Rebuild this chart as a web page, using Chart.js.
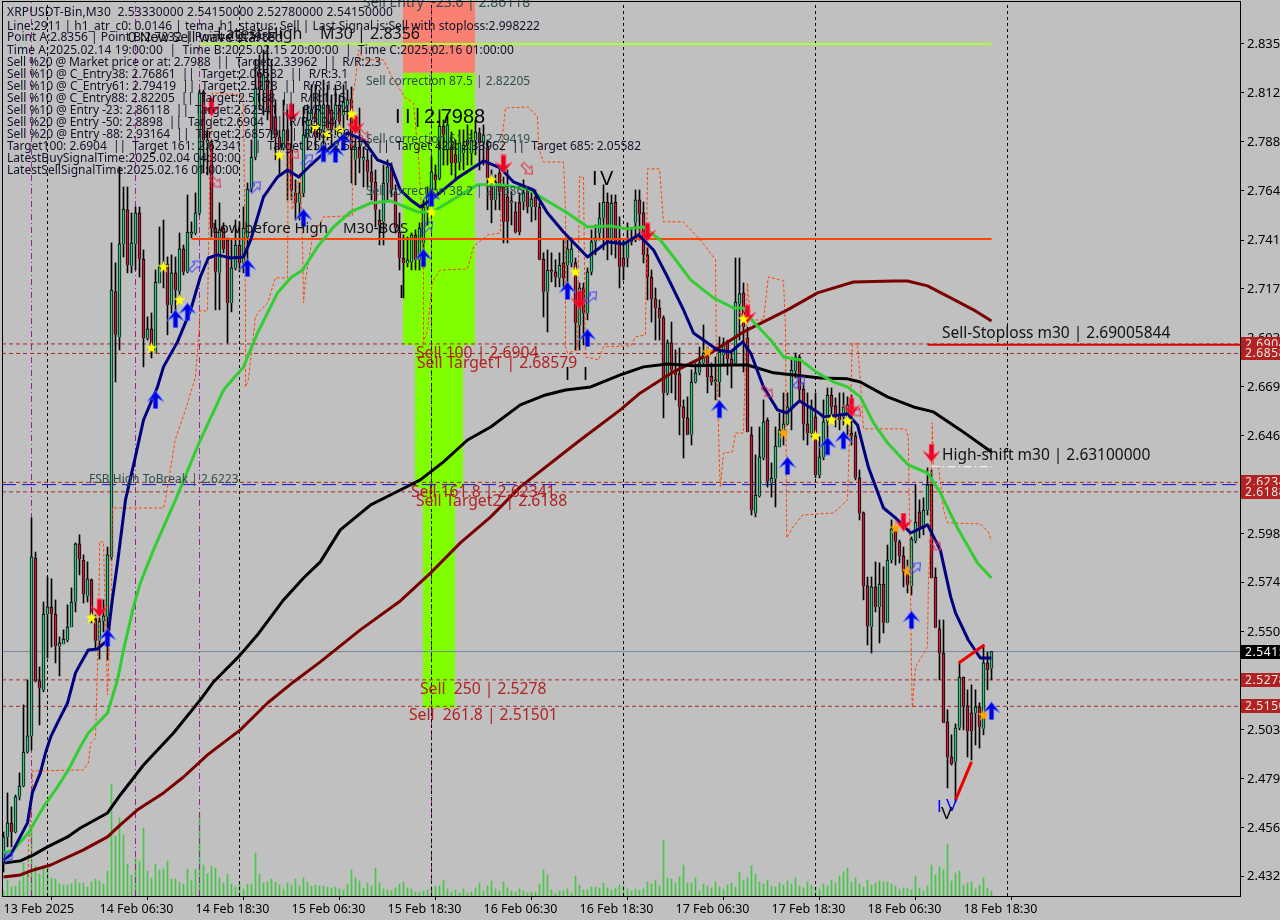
<!DOCTYPE html>
<html><head><meta charset="utf-8">
<style>html,body{margin:0;padding:0;background:#c0c0c0;overflow:hidden}canvas{display:block}</style>
<script src="https://cdn.jsdelivr.net/npm/chart.js@4"></script>
</head><body><canvas id="c" width="1280" height="920"></canvas>
<script>
const opens=[2.4397,2.4518,2.4586,2.4542,2.4712,2.4765,2.4929,2.5007,2.5868,2.5273,2.5229,2.5597,2.5631,2.5597,2.5442,2.5452,2.5471,2.5534,2.5655,2.5936,2.5858,2.5684,2.5762,2.5573,2.5467,2.5563,2.5583,2.5873,2.7156,2.6938,2.7388,2.7553,2.7282,2.7388,2.7538,2.7315,2.6933,2.6977,2.6860,2.7199,2.7286,2.7291,2.7093,2.7248,2.7160,2.7364,2.7253,2.7436,2.7441,2.7538,2.8124,2.7877,2.7877,2.7465,2.7248,2.7465,2.7407,2.7102,2.7272,2.7383,2.7296,2.7422,2.7654,2.7809,2.8216,2.8133,2.8182,2.8133,2.8003,2.7906,2.7853,2.7940,2.7843,2.7635,2.7587,2.7635,2.7906,2.7988,2.8022,2.7954,2.7940,2.8061,2.8037,2.7988,2.8061,2.8012,2.8061,2.8090,2.7795,2.7857,2.7795,2.7795,2.7737,2.7688,2.7504,2.7495,2.7683,2.7761,2.7640,2.7446,2.7320,2.7296,2.7301,2.7432,2.7311,2.7393,2.7567,2.7616,2.7722,2.7707,2.7959,2.7843,2.7857,2.7819,2.7785,2.7828,2.7891,2.7828,2.7891,2.7925,2.7877,2.7857,2.7707,2.7601,2.7732,2.7664,2.7616,2.7587,2.7543,2.7591,2.7591,2.7649,2.7567,2.7616,2.7567,2.7315,2.7156,2.7262,2.7253,2.7223,2.7296,2.7286,2.7296,2.7296,2.6996,2.7175,2.7054,2.7253,2.7398,2.7441,2.7514,2.7591,2.7407,2.7591,2.7403,2.7320,2.7320,2.7407,2.7490,2.7601,2.7538,2.7335,2.7228,2.7122,2.7078,2.7030,2.6667,2.6909,2.6778,2.6759,2.6599,2.6546,2.6464,2.6720,2.6764,2.6812,2.6860,2.6749,2.6720,2.6720,2.6851,2.6909,2.6831,2.6812,2.7098,2.7151,2.6933,2.6464,2.6086,2.6168,2.6352,2.6536,2.6231,2.6251,2.6405,2.6483,2.6517,2.6599,2.6773,2.6841,2.6686,2.6517,2.6473,2.6551,2.6270,2.6357,2.6527,2.6657,2.6604,2.6560,2.6551,2.6560,2.6473,2.6459,2.6256,2.6086,2.5733,2.5534,2.5728,2.5631,2.5742,2.5554,2.5858,2.6009,2.5946,2.5878,2.5800,2.5733,2.5950,2.6091,2.6018,2.6100,2.6222,2.5776,2.5525,2.5408,2.5075,2.4905,2.4881,2.5046,2.5292,2.5152,2.5118,2.5118,2.5147,2.5041,2.5360,2.5333];
const highs=[2.4542,2.4731,2.4663,2.4721,2.4828,2.5157,2.5278,2.6062,2.5897,2.5341,2.5655,2.5776,2.5767,2.5665,2.5486,2.5520,2.5641,2.5723,2.5941,2.5980,2.5883,2.5849,2.5767,2.5592,2.5578,2.5665,2.5921,2.7393,2.7296,2.7761,2.7664,2.7664,2.7538,2.7567,2.7567,2.7359,2.7035,2.7054,2.7262,2.7470,2.7504,2.7325,2.7335,2.7325,2.7441,2.7383,2.7625,2.7495,2.7635,2.8133,2.8133,2.7940,2.7891,2.7504,2.7587,2.7490,2.7417,2.7407,2.7504,2.7495,2.7567,2.7683,2.7891,2.8279,2.8303,2.8327,2.8351,2.8279,2.8085,2.7940,2.8085,2.8037,2.8051,2.7698,2.7683,2.8051,2.8061,2.8158,2.8158,2.8133,2.8182,2.8158,2.8109,2.8158,2.8109,2.8158,2.8133,2.8148,2.7906,2.8046,2.7857,2.7843,2.7819,2.7746,2.7553,2.7770,2.7795,2.7780,2.7674,2.7538,2.7432,2.7422,2.7441,2.7456,2.7490,2.7601,2.7664,2.7809,2.7770,2.8037,2.7988,2.8012,2.7930,2.7891,2.7940,2.7940,2.7964,2.7940,2.7988,2.7949,2.7964,2.7891,2.7746,2.7722,2.7770,2.7712,2.7746,2.7640,2.7591,2.7635,2.7698,2.7664,2.7649,2.7649,2.7587,2.7345,2.7359,2.7345,2.7311,2.7345,2.7407,2.7407,2.7417,2.7320,2.7199,2.7199,2.7272,2.7456,2.7480,2.7587,2.7674,2.7635,2.7625,2.7625,2.7519,2.7407,2.7490,2.7465,2.7649,2.7649,2.7591,2.7369,2.7262,2.7175,2.7117,2.7040,2.6923,2.7010,2.6875,2.6885,2.6633,2.6648,2.6778,2.6812,2.6889,2.6996,2.6889,2.6812,2.6841,2.6938,2.6933,2.6923,2.6860,2.7320,2.7320,2.7199,2.6986,2.6502,2.6367,2.6502,2.6633,2.6546,2.6328,2.6502,2.6570,2.6667,2.6667,2.6827,2.6860,2.6851,2.6715,2.6667,2.6633,2.6667,2.6454,2.6633,2.6691,2.6691,2.6643,2.6667,2.6667,2.6648,2.6657,2.6478,2.6294,2.6091,2.5776,2.5776,2.5849,2.5844,2.5825,2.5931,2.6052,2.6018,2.5955,2.5921,2.5858,2.5970,2.6222,2.6149,2.6159,2.6304,2.6294,2.5820,2.5568,2.5568,2.5133,2.5012,2.5065,2.5360,2.5292,2.5230,2.5254,2.5230,2.5167,2.5447,2.5413,2.5415];
const lows=[2.4348,2.4470,2.4470,2.4537,2.4697,2.4760,2.4924,2.4939,2.5268,2.5060,2.5220,2.5384,2.5437,2.5360,2.5297,2.5452,2.5462,2.5534,2.5607,2.5786,2.5650,2.5655,2.5554,2.5433,2.5379,2.5510,2.5375,2.5858,2.6720,2.6875,2.7325,2.7248,2.7248,2.7262,2.7228,2.6793,2.6923,2.6836,2.6860,2.7199,2.7175,2.6948,2.7054,2.7035,2.7117,2.7238,2.7248,2.7417,2.7432,2.7528,2.7732,2.7722,2.7422,2.7069,2.7069,2.7345,2.6909,2.7059,2.7262,2.7253,2.7248,2.7311,2.7640,2.7795,2.8037,2.8012,2.7988,2.7891,2.7795,2.7722,2.7843,2.7601,2.7601,2.7504,2.7504,2.7616,2.7843,2.7925,2.7843,2.7891,2.7867,2.7891,2.7867,2.7916,2.7940,2.7940,2.7988,2.7683,2.7674,2.7732,2.7664,2.7664,2.7601,2.7470,2.7383,2.7383,2.7601,2.7616,2.7441,2.7262,2.7127,2.7277,2.7262,2.7262,2.7262,2.7272,2.7480,2.7601,2.7649,2.7698,2.7770,2.7770,2.7722,2.7698,2.7746,2.7746,2.7770,2.7770,2.7819,2.7746,2.7770,2.7553,2.7490,2.7553,2.7553,2.7393,2.7393,2.7480,2.7441,2.7432,2.7553,2.7538,2.7495,2.7504,2.7311,2.7035,2.6962,2.7204,2.7180,2.7180,2.7180,2.7180,2.7277,2.6875,2.6875,2.6899,2.7020,2.7238,2.7335,2.7407,2.7359,2.7311,2.7335,2.7320,2.7175,2.7214,2.7277,2.7383,2.7398,2.7407,2.7296,2.7117,2.7010,2.6923,2.6923,2.6546,2.6657,2.6667,2.6633,2.6464,2.6352,2.6464,2.6415,2.6715,2.6754,2.6802,2.6667,2.6705,2.6633,2.6648,2.6802,2.6754,2.6691,2.6802,2.6923,2.6768,2.6478,2.6076,2.6067,2.6163,2.6343,2.6211,2.6163,2.6115,2.6405,2.6415,2.6512,2.6488,2.6740,2.6633,2.6439,2.6415,2.6454,2.6256,2.6256,2.6343,2.6415,2.6536,2.6502,2.6488,2.6512,2.6464,2.6415,2.6246,2.6052,2.5665,2.5447,2.5408,2.5607,2.5457,2.5505,2.5554,2.5844,2.5834,2.5844,2.5728,2.5699,2.5689,2.5941,2.5965,2.5980,2.6076,2.5771,2.5530,2.5278,2.5070,2.4755,2.4866,2.4687,2.5036,2.5036,2.4905,2.4890,2.4963,2.4948,2.5012,2.5230,2.5278];
const closes=[2.4518,2.4586,2.4542,2.4712,2.4765,2.4929,2.5007,2.5873,2.5273,2.5239,2.5597,2.5631,2.5597,2.5442,2.5457,2.5476,2.5534,2.5655,2.5936,2.5863,2.5694,2.5767,2.5592,2.5467,2.5563,2.5588,2.5883,2.7165,2.6948,2.7388,2.7557,2.7286,2.7393,2.7538,2.7315,2.6933,2.6977,2.6865,2.7204,2.7277,2.7272,2.7093,2.7248,2.7165,2.7364,2.7253,2.7446,2.7446,2.7538,2.8119,2.7891,2.7891,2.7465,2.7253,2.7456,2.7364,2.7102,2.7272,2.7383,2.7296,2.7465,2.7654,2.7809,2.8143,2.8133,2.8206,2.8037,2.7940,2.7906,2.7853,2.7940,2.7843,2.7649,2.7587,2.7635,2.7916,2.7988,2.8037,2.7906,2.8061,2.8061,2.7949,2.7940,2.8061,2.7979,2.8075,2.8085,2.7843,2.7857,2.7804,2.7809,2.7737,2.7688,2.7553,2.7480,2.7683,2.7761,2.7649,2.7465,2.7320,2.7296,2.7311,2.7432,2.7311,2.7465,2.7567,2.7616,2.7737,2.7698,2.7959,2.7916,2.7964,2.7780,2.7780,2.7877,2.7867,2.7867,2.7891,2.7930,2.7877,2.7916,2.7707,2.7601,2.7688,2.7640,2.7495,2.7495,2.7596,2.7446,2.7446,2.7635,2.7567,2.7606,2.7567,2.7311,2.7156,2.7262,2.7253,2.7228,2.7286,2.7223,2.7364,2.7364,2.7006,2.7175,2.7054,2.7253,2.7398,2.7417,2.7514,2.7591,2.7393,2.7586,2.7393,2.7277,2.7277,2.7398,2.7398,2.7601,2.7533,2.7335,2.7228,2.7122,2.7078,2.7030,2.6667,2.6909,2.6778,2.6754,2.6599,2.6546,2.6464,2.6720,2.6764,2.6812,2.6860,2.6744,2.6720,2.6730,2.6865,2.6909,2.6831,2.6807,2.7107,2.7146,2.6986,2.6478,2.6100,2.6173,2.6357,2.6527,2.6241,2.6255,2.6410,2.6488,2.6517,2.6599,2.6778,2.6841,2.6681,2.6517,2.6473,2.6599,2.6270,2.6357,2.6527,2.6657,2.6599,2.6551,2.6536,2.6599,2.6609,2.6459,2.6256,2.6086,2.5733,2.5539,2.5728,2.5631,2.5742,2.5554,2.5858,2.6009,2.5946,2.5878,2.5800,2.5738,2.5960,2.6042,2.6018,2.6100,2.6222,2.5771,2.5530,2.5408,2.5070,2.4905,2.4871,2.5046,2.5292,2.5152,2.5031,2.5031,2.5147,2.5050,2.5360,2.5326,2.5415];
const volumes=[5,16,9,10,15,33,23,70,30,22,27,28,18,17,12,11,11,12,17,13,13,9,14,17,15,12,25,112,60,78,61,32,21,38,35,68,25,18,32,26,27,35,17,17,14,12,27,16,27,82,31,22,30,28,18,13,22,12,9,13,7,12,12,43,22,13,14,17,14,11,7,13,11,17,10,18,14,10,11,10,10,9,8,9,7,6,12,26,18,15,8,13,10,28,13,7,6,5,8,12,14,8,7,4,4,5,6,8,10,10,16,7,4,6,3,7,3,4,8,13,5,10,15,7,5,14,8,5,4,7,5,3,4,4,12,26,21,6,3,5,5,7,3,20,11,6,6,9,9,8,13,8,6,8,11,10,7,5,7,6,7,14,12,16,10,56,18,17,13,19,31,13,13,18,5,12,10,8,14,9,7,11,13,9,24,16,18,30,22,14,12,16,10,9,13,11,15,12,18,10,8,14,11,9,7,12,10,16,13,20,24,28,14,18,12,9,16,11,13,15,14,14,12,10,7,8,8,6,20,8,5,10,31,21,29,26,52,15,23,25,11,13,14,7,11,18,8,5];

const navyBar=[0,1.8,6,7.2,9.2,10.5,11.8,13.5,16,18,19.8,21.2,23.5,26,27.2,28.5,30.5,32.8,35,38.5,40,43.5,46.8,49.2,51.2,53.5,56.8,60,61.8,65,68.5,71,73.8,76.8,81,86,90,93.5,96.8,99.2,101.8,104.2,107.5,113.5,120,124.2,127.5,132.5,136,140,146,151,155,158.8,162.5,166,170,172.5,178.5,181.8,184.8,186.8,190,193.5,195.8,199,203.5,205,211,213.5,216.2,220,223,226.8,231,234.2,236.8,238,241.2,244.2,247];
const navyPrice=[2.4407,2.4431,2.4586,2.4731,2.4828,2.4925,2.5002,2.5070,2.5166,2.5312,2.5375,2.5423,2.5428,2.5471,2.5665,2.5844,2.6149,2.6343,2.6536,2.6696,2.6793,2.6914,2.7069,2.7228,2.7320,2.7335,2.7320,2.7325,2.7407,2.7616,2.7712,2.7746,2.7712,2.7770,2.7843,2.7925,2.7891,2.7795,2.7770,2.7649,2.7601,2.7567,2.7611,2.7707,2.7790,2.7756,2.7688,2.7649,2.7538,2.7446,2.7325,2.7398,2.7388,2.7432,2.7359,2.7228,2.7069,2.6957,2.6875,2.6865,2.6914,2.6860,2.6696,2.6585,2.6570,2.6628,2.6575,2.6551,2.6565,2.6512,2.6309,2.6110,2.6062,2.5989,2.6028,2.5907,2.5680,2.5602,2.5471,2.5384,2.5384];
const greenBar=[0,2.5,6.2,10,13.5,16.2,19.2,21.2,26,28.5,30,32.5,34.2,37.5,43,49.2,55,60,63.5,66,68.5,71.8,74.8,78.5,82.5,86.8,91.8,96.8,99.2,103.5,107.2,113.5,118.5,124.2,131,134.2,141,146,151.8,156,160,164.2,167.5,171.8,177.5,182.5,185,187.5,191.8,195,199.2,203.5,207.5,211,214.2,217.5,221,226.2,231,234.2,238.5,243.5,247];
const greenPrice=[2.4440,2.4455,2.4537,2.4663,2.4760,2.4842,2.4954,2.5021,2.5118,2.5278,2.5423,2.5631,2.5747,2.5907,2.6149,2.6439,2.6681,2.6793,2.6957,2.7054,2.7151,2.7224,2.7262,2.7374,2.7470,2.7543,2.7586,2.7596,2.7577,2.7543,2.7543,2.7616,2.7674,2.7674,2.7654,2.7616,2.7538,2.7470,2.7475,2.7461,2.7470,2.7407,2.7325,2.7214,2.7127,2.7078,2.7078,2.7010,2.6923,2.6841,2.6827,2.6764,2.6720,2.6696,2.6648,2.6522,2.6425,2.6318,2.6280,2.6183,2.6013,2.5844,2.5771];
const blackBar=[0,4.2,7.5,11,16,19.2,26,29.2,35,42.5,49.2,52.5,59.2,63.5,70,75,79.2,84.2,91.8,99.2,104.2,110,116,121.8,129.2,135.5,140.5,146.8,154.2,160,166,172.5,182.5,186,192.5,197.5,204.2,211,214.2,221,227.5,232.5,239.2,247];
const blackPrice=[2.4392,2.4402,2.4431,2.4470,2.4518,2.4561,2.4634,2.4721,2.4866,2.5021,2.5181,2.5268,2.5399,2.5496,2.5665,2.5771,2.5849,2.6004,2.6125,2.6197,2.6246,2.6333,2.6439,2.6502,2.6609,2.6657,2.6681,2.6696,2.6754,2.6793,2.6807,2.6798,2.6802,2.6802,2.6764,2.6754,2.6739,2.6735,2.6720,2.6648,2.6599,2.6575,2.6488,2.6381];
const maroonBar=[0,4.2,7.5,11.8,20,26,29.2,33.5,40,45,51,59.2,66,72.5,79.2,89.2,99.2,106.8,114.2,121.8,129.2,144.2,154.2,159.2,167.5,176,185,196,203.5,212.5,222.5,226,231,236.8,242.5,247];
const maroonPrice=[2.4324,2.4334,2.4358,2.4382,2.4455,2.4518,2.4576,2.4649,2.4731,2.4808,2.4915,2.5036,2.5166,2.5268,2.5365,2.5520,2.5660,2.5796,2.5941,2.6067,2.6212,2.6439,2.6585,2.6667,2.6769,2.6851,2.6962,2.7069,2.7151,2.7204,2.7209,2.7209,2.7185,2.7127,2.7069,2.7015];
const bandBar=[6.2,6.2,7.2,7.2,20,21.2,21.8,23,23.5,24,24,25,26,27,27.2,40,40.5,42.9,45.5,48,49,49,51,51.5,52.2,59.2,60,60.5,60.5,61.2,63,63.8,66,68,71,71.2,72.2,74.2,74.8,75,75.5,77.2,80,87.2,87.2,88,88.8,90,95,97.5,100.5,102.5,103.8,105,105,106,107.2,109.2,116,117.5,118.2,121.2,124.2,124.8,125.5,131.2,133.5,133.8,135,140,140.5,140.5,141,143.5,144,145,145.5,148.8,150,156.8,158,160.5,161,164,165,170,174.8,178,178.2,178.5,179,179.2,180,182.2,183,185,186,186.8,190,191.2,194.2,195,195.5,195.8,197.2,199.8,207.5,211,212,212.2,213.5,214.2,215,225.5,226.2,226.8,227,227.2,228,231,231.2,231.8,232.2,232.5,233.8,235,236,244.2,246.2,247];
const bandPrice=[2.4324,2.4470,2.4731,2.4837,2.4842,2.4876,2.4973,2.4997,2.5341,2.5825,2.5946,2.5946,2.5205,2.5699,2.6110,2.6110,2.6149,2.6439,2.6585,2.6744,2.7006,2.7064,2.7064,2.7649,2.8119,2.8109,2.8085,2.7083,2.6696,2.6730,2.7035,2.7059,2.7102,2.7224,2.7224,2.7891,2.7553,2.7732,2.7345,2.7102,2.7214,2.7417,2.7519,2.7524,2.8100,2.8182,2.8327,2.8279,2.8279,2.8182,2.8095,2.8070,2.7795,2.7354,2.6909,2.6972,2.7204,2.7262,2.7267,2.7374,2.7388,2.7432,2.7441,2.7925,2.8046,2.8051,2.8003,2.7853,2.7785,2.7785,2.7553,2.6890,2.6860,2.6875,2.7712,2.7712,2.6841,2.6827,2.6890,2.6894,2.6938,2.6948,2.7751,2.7751,2.7495,2.7495,2.7393,2.7311,2.6890,2.6696,2.6309,2.6212,2.6376,2.6381,2.6473,2.6473,2.7199,2.7020,2.7020,2.7228,2.7214,2.7209,2.6972,2.5965,2.6013,2.6076,2.6086,2.6149,2.6764,2.6904,2.6904,2.6730,2.6493,2.6493,2.6454,2.5665,2.5312,2.5147,2.5341,2.5438,2.5728,2.5989,2.6522,2.6309,2.6304,2.6101,2.6038,2.6033,2.5994,2.5951];

const sellArrowBar=[24,52,72,88,125,144,161,186,212,225,232];
const sellArrowPrice=[2.5626,2.8051,2.8022,2.7964,2.7775,2.7117,2.7446,2.7049,2.6599,2.6042,2.6376];
const buyArrowBar=[26,38,43,46,61,75,80,83,85,105,107,141,146,179,196,206,210,227,247];
const buyArrowPrice=[2.5481,2.6633,2.7025,2.7059,2.7272,2.7514,2.7828,2.7824,2.7882,2.7320,2.7611,2.7161,2.6933,2.6589,2.6314,2.6410,2.6439,2.5568,2.5128];
const starBar=[22,37,40,44,69,78,81,84,87,107,122,143,185,203,207,211];
const starPrice=[2.5578,2.6885,2.7277,2.7117,2.7819,2.7954,2.7920,2.7940,2.8017,2.7543,2.7698,2.7253,2.7025,2.6459,2.6536,2.6531];
const amberBar=[176,195,223,226,245];
const amberPrice=[2.6865,2.6473,2.6013,2.5805,2.5108];
const hollowUpBar=[1,48,63,76,106,147,199,228];
const hollowUpPrice=[2.4416,2.7282,2.7664,2.7795,2.7470,2.7132,2.6720,2.5820];
const hollowDownBar=[53,72.5,90,131,191,213,233];
const hollowDownPrice=[2.7688,2.7828,2.7916,2.7751,2.6672,2.6580,2.5931];

const dailyBars=[11,59,107,155,203,251];
const signalBars=[7,33,49,107];
const levelPrices=[2.6904,2.68579,2.62341,2.6188,2.5278,2.51501];
const levelLabels=['2.6904','2.6858','2.6234','2.6188','2.5278','2.5150'];
const bidPrice=2.5415;
const fsbPrice=2.6223;
const latestHigh=2.8356, lowBeforeHigh=2.7412, stopLoss=2.69005844, highShift=2.631;

const tickValues=[2.8356,2.8119,2.7882,2.7645,2.7407,2.7170,2.6933,2.6696,2.6459,2.6222,2.5985,2.5748,2.5510,2.5273,2.5036,2.4799,2.4562,2.4325];
const tickLabels=['2.83500','2.81200','2.78800','2.76400','2.74100','2.71700','2.69300','2.66900','2.64600','2.62200','2.59800','2.57400','2.55000','2.52700','2.50300','2.47900','2.45600','2.43200'];
const timeBars=[0,24,48,72,96,120,144,168,192,216,240];
const timeLabels=['13 Feb 2025','14 Feb 06:30','14 Feb 18:30','15 Feb 06:30','15 Feb 18:30','16 Feb 06:30','16 Feb 18:30','17 Feb 06:30','17 Feb 18:30','18 Feb 06:30','18 Feb 18:30'];

const infoLines=['XRPUSDT-Bin,M30  2.53330000 2.54150000 2.52780000 2.54150000',
'Line:2911 | h1_atr_c0: 0.0146 | tema_h1_status: Sell | Last Signal is:Sell with stoploss:2.998222',
'Point A:2.8356 | Point B:2.7232 | Point C:2.7988',
'Time A:2025.02.14 19:00:00  |  Time B:2025.02.15 20:00:00  |  Time C:2025.02.16 01:00:00',
'Sell %20 @ Market price or at: 2.7988  ||  Target:2.33962  ||  R/R:2.3',
'Sell %10 @ C_Entry38: 2.76861  ||  Target:2.06582  ||  R/R:3.1',
'Sell %10 @ C_Entry61: 2.79419  ||  Target:2.5278  ||  R/R:1.31',
'Sell %10 @ C_Entry88: 2.82205  ||  Target:2.5188  ||  R/R:1.15',
'Sell %10 @ Entry -23: 2.86118  ||  Target:2.62341  ||  R/R:1.74',
'Sell %20 @ Entry -50: 2.8898  ||  Target:2.6904  ||  R/R:3.94',
'Sell %20 @ Entry -88: 2.93164  ||  Target:2.68579  ||  R/R:3.69',
'Target100: 2.6904  ||  Target 161: 2.62341  ||  Target 250: 2.5278  ||  Target 423: 2.33962  ||  Target 685: 2.05582',
'LatestBuySignalTime:2025.02.04 04:30:00',
'LatestSellSignalTime:2025.02.16 01:00:00'];
const infoRows=[13,27,38,51,63,75,87,99,111,123,135,147,159,171];
const infoEnds=[393,540,0,514,381,348,349,346,349,335,350,641,241,239];

const FONT='"Noto Sans"', SANS='"Liberation Sans"';
const dark='#2f4f4f', brick='#b22222';
const notes=[
['Sell Entry  -23.6 | 2.86118',363,3,14,dark,FONT],
['Sell correction 87.5 | 2.82205',366,82,12,dark,FONT],
['Sell correction 61.8 | 2.79419',366,140,12,dark,FONT],
['Sell correction 38.2 | 2.76861',366,192,12,dark,FONT],
['0 New Sell wave started',128,38,14,'#111',FONT],
['Latest High',217,34,16,'#111',FONT],
['M30 | 2.8356',320,34,16,'#111',FONT],
['Low before High',212,229,15,'#111',FONT],
['M30-BOS',343,229,15,'#111',FONT],
['|',418,229,15,'#111',FONT],
['I',395,117,20,'#000',SANS],
['I',405,117,20,'#000',SANS],
['|',415,117,20,'#000',SANS],
['2.7988',424,117,20,'#000',SANS],
['I',399,293,18,'#000',SANS],
['I',565,375,18,'#000',SANS],
['I',583,375,18,'#000',SANS],
['I',592,179,20,'#000',SANS],
['V',600,179,20,'#000',SANS],
['Sell 100 | 2.6904',416,354,15.7,brick,FONT],
['Sell Target1 | 2.68579',417,364,15.7,brick,FONT],
['Sell 161.8 | 2.62341',411,493,15.7,brick,FONT],
['Sell Target2 | 2.6188',416,502,15.7,brick,FONT],
['Sell  250 | 2.5278',420,690,15.7,brick,FONT],
['Sell  261.8 | 2.51501',409,716,15.7,brick,FONT],
['FSB High ToBreak | 2.6223',89,480,12,dark,FONT],
['Sell-Stoploss m30 | 2.69005844',942,334,15.5,'#111',FONT],
['High-shift m30 | 2.63100000',942,456,15.5,'#111',FONT],
['I',937,807,17,'#0000ff',SANS],
['V',946,806,17,'#0000ff',SANS],
['V',941,814,17,'#000',SANS]
];

function zip(xs,ys){return xs.map((x,i)=>({x,y:ys[i]}));}
const barIdx=opens.map((_,i)=>i);
const Y0=2.4232,Y1=2.8559,X0=-0.375,X1=309.125;

function glyph(w,h,fn){const c=document.createElement('canvas');c.width=w;c.height=h;fn(c.getContext('2d'),w,h);return c;}
function arrowPath(g,w,h){g.beginPath();g.moveTo(w/2,1);g.lineTo(w-1,h*0.55);g.lineTo(w/2+2,h*0.38);g.lineTo(w/2+2,h-1);g.lineTo(w/2-2,h-1);g.lineTo(w/2-2,h*0.38);g.lineTo(1,h*0.55);g.closePath();}
const buyGlyph=glyph(17,19,(g,w,h)=>{arrowPath(g,w,h);g.fillStyle='#0000e6';g.strokeStyle='rgba(90,130,255,.8)';g.lineWidth=1.5;g.stroke();g.fill();});
const sellGlyph=glyph(17,19,(g,w,h)=>{g.translate(0,h);g.scale(1,-1);arrowPath(g,w,h);g.fillStyle='#ee0022';g.strokeStyle='rgba(255,70,90,.8)';g.lineWidth=1.5;g.stroke();g.fill();});
function star(col){return glyph(13,13,(g)=>{g.beginPath();for(let k=0;k<10;k++){const r=k%2?2.6:6.4,a=-Math.PI/2+k*Math.PI/5;g.lineTo(6.5+r*Math.cos(a),6.8+r*Math.sin(a));}g.closePath();g.fillStyle=col;g.fill();});}
function hollow(col,rot){return glyph(15,15,(g)=>{g.translate(7.5,7.5);g.rotate(rot);g.beginPath();g.moveTo(0,-7);g.lineTo(5,-1);g.lineTo(2,-1);g.lineTo(2,7);g.lineTo(-2,7);g.lineTo(-2,-1);g.lineTo(-5,-1);g.closePath();g.strokeStyle=col;g.lineWidth=1;g.stroke();});}
function markers(xs,ys,style){return {type:'scatter',data:zip(xs,ys),pointStyle:style,pointRadius:8,pointHoverRadius:8,showLine:false,order:0,yAxisID:'y'};}
function line(xs,ys,col,w,dash,order){return {type:'line',data:zip(xs,ys),borderColor:col,borderWidth:w,borderDash:dash||[],pointRadius:0,tension:0,fill:false,order:order,yAxisID:'y',borderJoinStyle:'round'};}

const zonePlugin={id:'zones',beforeDatasetsDraw(ch){
  const {ctx,scales:{x,y}}=ch;
  const rect=(a,b,p,q,c)=>{ctx.fillStyle=c;ctx.fillRect(x.getPixelForValue(a)-.5,y.getPixelForValue(p),x.getPixelForValue(b)-x.getPixelForValue(a),y.getPixelForValue(q)-y.getPixelForValue(p));};
  rect(100,118,Y1,2.8216,'#fa8072');
  rect(100,118,2.8216,2.6899,'#7fff00');
  rect(103,115,2.6899,2.6207,'#7fff00');
  rect(105,113,2.6207,2.5142,'#7fff00');
}};
const textPlugin={id:'notes',afterDatasetsDraw(ch){
  const {ctx,chartArea:a,scales:{y}}=ch;
  ctx.save();ctx.textBaseline='middle';ctx.textAlign='left';
  notes.forEach(n=>{ctx.font=n[3]+'px '+n[5];ctx.fillStyle=n[4];ctx.fillText(n[0],n[1],n[2]);});
  ctx.font='12px '+FONT;ctx.fillStyle='#10102a';
  infoLines.forEach((t,i)=>{ctx.letterSpacing='0px';
    if(infoEnds[i]){const m=ctx.measureText(t).width;ctx.letterSpacing=((infoEnds[i]-7-m)/t.length).toFixed(3)+'px';}
    ctx.fillText(t,7,infoRows[i]);});
  ctx.letterSpacing='0.6px';
  levelPrices.forEach((p,i)=>{const py=Math.round(y.getPixelForValue(p));ctx.fillStyle='#b22222';ctx.fillRect(1241,py-7,39,14);ctx.fillStyle='#e8e8e8';ctx.fillText(levelLabels[i],1245,py+.5);});
  const by=Math.round(y.getPixelForValue(bidPrice));ctx.fillStyle='#000';ctx.fillRect(1241,by-7,39,14);ctx.fillStyle='#fff';ctx.fillText(bidPrice.toFixed(4)+'0',1245,by+.5);
  ctx.letterSpacing='0px';
  ctx.strokeStyle='#000';ctx.lineWidth=1;ctx.strokeRect(a.left+.5,a.top-.5,a.right-a.left,a.bottom-a.top+1);
  ctx.restore();
}};
function noPad(s){s.paddingLeft=s.paddingRight=s.paddingTop=s.paddingBottom=0;}

const datasets=[
 {type:'bar',label:'Volume',data:zip(barIdx,volumes),backgroundColor:'#46c846',barThickness:1,grouped:false,yAxisID:'vol',order:12},
 ...dailyBars.map(b=>line([b,b],[Y0,Y1],'#000',1,[3,3],11)),
 ...signalBars.map(b=>line([b,b],[Y0,Y1],'#a0209a',1,[6,3,1,3],11)),
 ...levelPrices.map(p=>line([X0,X1],[p,p],'#a52a2a',1,[4,3],10)),
 line([X0,X1],[fsbPrice,fsbPrice],'#1010d0',1,[14,6],10),
 line([X0,X1],[bidPrice,bidPrice],'#778899',1,[],10),
 {type:'bar',label:'Wick',data:zip(barIdx,barIdx.map(i=>[lows[i],highs[i]])),backgroundColor:'#000',barThickness:1,grouped:false,order:8,yAxisID:'y'},
 {type:'bar',label:'Body',data:zip(barIdx,barIdx.map(i=>[opens[i],closes[i]])),backgroundColor:barIdx.map(i=>closes[i]>=opens[i]?'#35c882':'#c4203c'),borderColor:'#000',borderWidth:1,barThickness:3,minBarLength:2,grouped:false,order:7,yAxisID:'y'},
 line(bandBar,bandPrice,'#ff4500',1,[3,2],6),
 line([49,247],[latestHigh,latestHigh],'#adff2f',2,[],5),
 line([47,247],[lowBeforeHigh,lowBeforeHigh],'#ff4500',2,[],5),
 line([231,X1],[stopLoss,stopLoss],'#e00000',2,[],5),
 line([232,247],[highShift,highShift],'#ffffff',1,[8,3,2,3],5),
 line(maroonBar,maroonPrice,'#7a0000',3,[],4),
 line(blackBar,blackPrice,'#000000',3,[],3.5),
 line(greenBar,greenPrice,'#32cd32',3,[],3),
 line(navyBar,navyPrice,'#000080',3,[],2),
 line([238.8,245.2],[2.5360,2.5447],'#f00000',3,[],1),
 line([238,242],[2.4697,2.4881],'#f00000',3,[],1),
 markers(hollowUpBar,hollowUpPrice,hollow('#4040ff',Math.PI/4)),
 markers(hollowDownBar,hollowDownPrice,hollow('#e03050',Math.PI*3/4)),
 markers(starBar,starPrice,star('#ffff00')),
 markers(amberBar,amberPrice,star('#ffa500')),
 markers(sellArrowBar,sellArrowPrice,sellGlyph),
 markers(buyArrowBar,buyArrowPrice,buyGlyph)
];

new Chart(document.getElementById('c'),{
 type:'bar',
 data:{datasets},
 plugins:[zonePlugin,textPlugin],
 options:{responsive:false,animation:false,devicePixelRatio:1,
  layout:{autoPadding:false,padding:{top:2,left:2,right:0,bottom:0}},
  plugins:{legend:{display:false},tooltip:{enabled:false},title:{display:false}},
  scales:{
   x:{type:'linear',min:X0,max:X1,offset:false,
    afterBuildTicks(s){s.ticks=timeBars.map(v=>({value:v}));},
    afterFit(s){s.height=24;noPad(s);},
    grid:{display:true,drawOnChartArea:false,drawTicks:true,tickLength:4,color:'#000'},
    border:{display:true,color:'#000'},
    ticks:{autoSkip:false,maxRotation:0,minRotation:0,align:'start',padding:2,color:'#000',font:{family:FONT,size:12.5},
      callback(v){const k=timeBars.indexOf(v);return k<0?'':timeLabels[k];}}},
   y:{type:'linear',position:'right',min:Y0,max:Y1,
    afterBuildTicks(s){s.ticks=tickValues.map(v=>({value:v}));},
    afterFit(s){s.width=40;noPad(s);},
    grid:{display:true,drawOnChartArea:false,drawTicks:true,tickLength:4,color:'#000'},
    border:{display:true,color:'#000'},
    ticks:{autoSkip:false,padding:3,color:'#000',font:{family:FONT,size:13},crossAlign:'near',
      callback(v){const k=tickValues.indexOf(v);return k<0?'':tickLabels[k];}}},
   vol:{type:'linear',display:false,min:0,max:894}
  }
 }
});
</script></body></html>
